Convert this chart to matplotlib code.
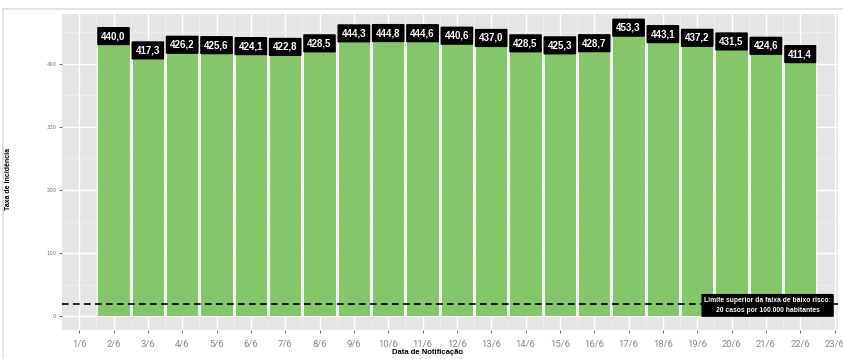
import numpy as np
import matplotlib
matplotlib.use("Agg")
import matplotlib.pyplot as plt
from matplotlib.lines import Line2D

days = ["1/6", "2/6", "3/6", "4/6", "5/6", "6/6", "7/6", "8/6", "9/6", "10/6", "11/6", "12/6",
        "13/6", "14/6", "15/6", "16/6", "17/6", "18/6", "19/6", "20/6", "21/6", "22/6", "23/6"]
bar_days = days[1:22]
taxa = [440.0, 417.3, 426.2, 425.6, 424.1, 422.8, 428.5, 444.3, 444.8, 444.6, 440.6,
        437.0, 428.5, 425.3, 428.7, 453.3, 443.1, 437.2, 431.5, 424.6, 411.4]
limite = 20
nota = "Limite superior da faixa de baixo risco:\n20 casos por 100.000 habitantes"

fig = plt.figure(figsize=(8.43, 3.59), dpi=100)
ax = fig.add_axes([62 / 843, 29 / 359, 776 / 843, 316 / 359])

pos = {d: i + 1 for i, d in enumerate(days)}
xb = [pos[d] for d in bar_days]

ax.set_facecolor("#e5e5e5")
ax.bar(xb, taxa, width=0.94, color="#85c66a", edgecolor="white", linewidth=0.6, zorder=3)

ax.axhline(limite, color="black", lw=1.2, dashes=(4, 2.6), zorder=4)

for x, v in zip(xb, taxa):
    ax.text(x, v + 4, f"{v:.1f}".replace(".", ","), ha="center", va="center",
            color="white", fontsize=7, fontweight="bold", family="Liberation Sans", zorder=5,
            bbox=dict(boxstyle="round,pad=0.42,rounding_size=0.1", fc="black", ec="black", lw=0))

ax.text(21.05, 17, nota, ha="center", va="center", color="white", fontsize=4.9,
        fontweight="bold", family="Liberation Sans", linespacing=1.7, zorder=6,
        bbox=dict(boxstyle="round,pad=0.4,rounding_size=0.1", fc="black", ec="black", lw=0))

ax.set_xlim(0.5, 23.1)
ax.set_ylim(-22, 479)

ax.set_xticks(range(1, len(days) + 1))
ax.set_xticklabels(days)
ax.set_xticks(np.arange(1.5, 23, 1), minor=True)
ax.set_yticks([0, 100, 200, 300, 400])
ax.set_yticks([50, 150, 250, 350, 450], minor=True)
ax.grid(which="major", color="white", lw=1.0, zorder=0)
ax.grid(which="minor", color="#f2f2f2", lw=0.5, zorder=0)
ax.set_axisbelow(True)

ax.tick_params(axis="x", which="major", length=2, width=0.6, color="#555555",
               labelsize=6.8, labelcolor="#888888", pad=5)
ax.tick_params(axis="y", which="major", length=2, width=0.6, color="#555555",
               labelsize=3.8, labelcolor="#777777", pad=2)
ax.tick_params(which="minor", length=0)
for lab in ax.get_xticklabels():
    lab.set_family("Roboto")

for s in ax.spines.values():
    s.set_visible(False)

fig.text(9 / 843, 0.5, "Taxa de Incidência", rotation=90, ha="center", va="center",
         fontsize=5, fontweight="bold", family="Liberation Sans")
fig.text(427 / 843, 1 - 353 / 359, "Data de Notificação", ha="center", va="center",
         fontsize=5.5, fontweight="bold", family="Liberation Sans")

# moldura clara em volta da figura
fig.add_artist(Line2D([3 / 843, 1.0], [1 - 9 / 359] * 2, color="#dddddd", lw=1.2,
                      transform=fig.transFigure))
fig.add_artist(Line2D([3 / 843] * 2, [0, 1 - 9 / 359], color="#dddddd", lw=1.2,
                      transform=fig.transFigure))

fig.savefig("out.png", dpi=100, facecolor="white")
